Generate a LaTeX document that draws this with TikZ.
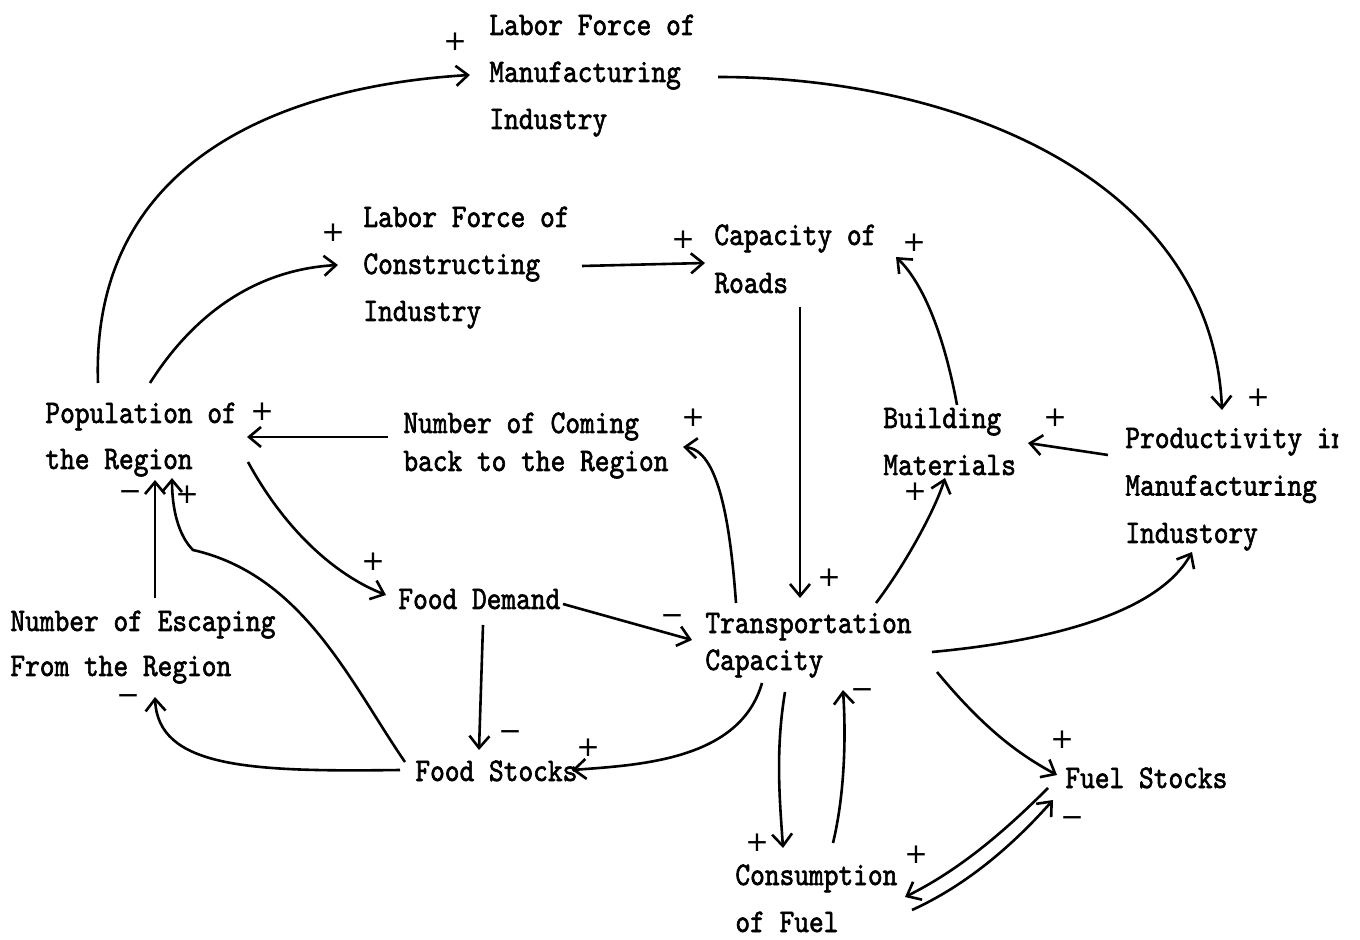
\documentclass[tikz,border=0pt]{standalone}
\usepackage{fontspec}
\newfontfamily\labfont{lmmono10-regular.otf}[FakeStretch=0.85,FakeBold=1.8]
\newfontfamily\sgnfont{DejaVu Sans}
\usetikzlibrary{arrows.meta}
\newcommand\stk[2]{\vtop{\baselineskip=#1\lineskiplimit=-20pt\lineskip=0pt\halign{##\hfil\cr#2\crcr}}}
\begin{document}
\begin{tikzpicture}[x=0.5pt,y=-0.5pt,
  lab/.style={font=\fontsize{16.5pt}{20pt}\labfont, inner sep=0pt, anchor=base west},
  sgn/.style={font=\fontsize{14pt}{14pt}\sgnfont, inner sep=0pt},
  arr/.style={line width=1.3pt, -{Straight Barb[length=6pt,width=10pt,line width=1.3pt]}}]
\useasboundingbox (0,0) rectangle (1360,940);
% nodes
\node[lab] (lfm) at (489,35) {\stk{23.5pt}{Labor Force of\cr Manufacturing\cr Industry}};
\node[lab] (lfc) at (363,227) {\stk{23.5pt}{Labor Force of\cr Constructing\cr Industry}};
\node[lab] (cor) at (714,245) {\stk{24pt}{Capacity of\cr Roads}};
\node[lab] (pop) at (45,423) {\stk{23pt}{Population of\cr the Region}};
\node[lab] (ncb) at (403,433) {\stk{19pt}{Number of Coming\cr back to the Region}};
\node[lab] (bm) at (883,428) {\stk{23.5pt}{Building\cr Materials}};
\begin{scope}
\clip (0,0) rectangle (1338,940);
\node[lab] (pmi) at (1125,448) {\stk{23.75pt}{Productivity in\cr Manufacturing\cr Industory}};
\end{scope}
\node[lab] (nes) at (10,631) {\stk{22.5pt}{Number of Escaping\cr From the Region}};
\node[lab] (fd) at (398,609) {Food Demand};
\node[lab] (tc) at (705,633) {\stk{18.5pt}{Transportation\cr Capacity}};
\node[lab] (fs) at (415,781) {Food Stocks};
\node[lab] (cf) at (735,885) {\stk{23.5pt}{Consumption\cr of Fuel}};
\node[lab] (fls) at (1065,788) {Fuel Stocks};
% signs
\node[sgn] (s1) at (455,42) {+};
\node[sgn] (s2) at (333,233) {+};
\node[sgn] (s3) at (683,240) {+};
\node[sgn] (s4) at (914,243) {+};
\node[sgn] (s5) at (262,412) {+};
\node[sgn] (s6) at (693,418) {+};
\node[sgn] (s7) at (1055,418) {+};
\node[sgn] (s8) at (1258,398) {+};
\node[sgn] (s9) at (130,496) {−};
\node[sgn] (s10) at (187,495) {+};
\node[sgn] (s11) at (373,562) {+};
\node[sgn] (s12) at (829,578) {+};
\node[sgn] (s13) at (915,492) {+};
\node[sgn] (s14) at (672,620) {−};
\node[sgn] (s15) at (128,700) {−};
\node[sgn] (s16) at (510,736) {−};
\node[sgn] (s17) at (588,748) {+};
\node[sgn] (s18) at (862,694) {−};
\node[sgn] (s19) at (1062,740) {+};
\node[sgn] (s20) at (1072,822) {−};
\node[sgn] (s21) at (757,843) {+};
\node[sgn] (s22) at (916,855) {+};
% connectors
\draw[arr] ([shift={(53,-40)}]pop.base west) .. controls +(-8,-233) and +(-170,10) .. ([shift={(-19,40)}]lfm.base west);
\draw[arr] ([shift={(229,42)}]lfm.base west) .. controls +(240,0) and +(-10,-230) .. ([shift={(97,-38)}]pmi.base west);
\draw[arr] ([shift={(105,-40)}]pop.base west) .. controls +(40,-63) and +(-88,5) .. ([shift={(-25,38)}]lfc.base west);
\draw[arr] ([shift={(219,39)}]lfc.base west) -- ([shift={(-9,18)}]cor.base west);
\draw[arr] ([shift={(86,62)}]cor.base west) -- ([shift={(95,-35)}]tc.base west);
\draw[arr] ([shift={(74,-23)}]bm.base west) .. controls +(-12,-65) and +(29,28) .. ([shift={(182,12)}]cor.base west);
\draw[arr] ([shift={(-17,7)}]pmi.base west) -- ([shift={(145,15)}]bm.base west);
\draw[arr] ([shift={(171,-30)}]tc.base west) .. controls +(29,-38) and +(-10,32) .. ([shift={(62,50)}]bm.base west);
\draw[arr] ([shift={(31,-30)}]tc.base west) .. controls +(-6,-83) and +(35,3) .. ([shift={(280,14)}]ncb.base west);
\draw[arr] ([shift={(-15,4)}]ncb.base west) -- ([shift={(202,14)}]pop.base west);
\draw[arr] ([shift={(203,39)}]pop.base west) .. controls +(37,68) and +(-51,-20) .. ([shift={(-12,-14)}]fd.base west);
\draw[arr] ([shift={(165,-5)}]fd.base west) -- ([shift={(-13,7)}]tc.base west);
\draw[arr] ([shift={(85,16)}]fd.base west) -- ([shift={(64,-31)}]fs.base west);
\draw[arr] ([shift={(57,50)}]tc.base west) .. controls +(-22,77) and +(68,-5) .. ([shift={(157,-11)}]fs.base west);
\draw[arr] ([shift={(-10,-19)}]fs.base west) .. controls +(-55,-80) and +(110,25) .. ([shift={(148,127)}]pop.base west) .. controls +(-15,-15) and +(0,30) .. ([shift={(127,55)}]pop.base west);
\draw[arr] ([shift={(145,-33)}]nes.base west) -- ([shift={(110,57)}]pop.base west);
\draw[arr] ([shift={(-15,-11)}]fs.base west) .. controls +(-150,2) and +(3,71) .. ([shift={(145,66)}]nes.base west);
\draw[arr] ([shift={(227,19)}]tc.base west) .. controls +(128,-12) and +(-32,58) .. ([shift={(67,104)}]pmi.base west);
\draw[arr] ([shift={(232,39)}]tc.base west) .. controls +(48,58) and +(-37,-20) .. ([shift={(-8,-13)}]fls.base west);
\draw[arr] ([shift={(80,59)}]tc.base west) .. controls +(-10,60) and +(-3,-45) .. ([shift={(48,-37)}]cf.base west);
\draw[arr] ([shift={(98,-42)}]cf.base west) .. controls +(12,-50) and +(3,45) .. ([shift={(138,57)}]tc.base west);
\draw[arr] ([shift={(-17,0)}]fls.base west) .. controls +(-50,50) and +(50,-25) .. ([shift={(170,12)}]cf.base west);
\draw[arr] ([shift={(177,25)}]cf.base west) .. controls +(55,-25) and +(-40,45) .. ([shift={(-12,12)}]fls.base west);
\end{tikzpicture}
\end{document}
